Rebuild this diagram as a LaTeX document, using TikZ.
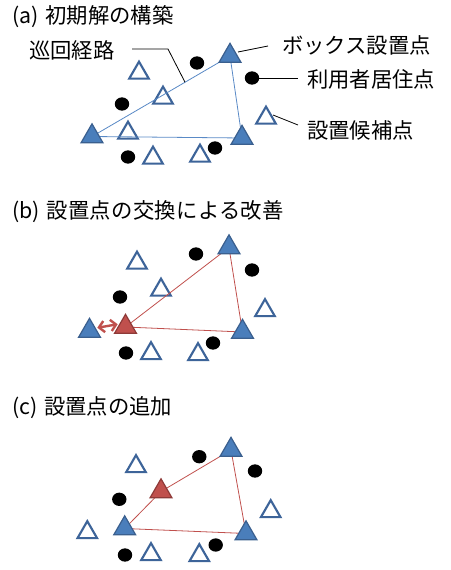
\documentclass[tikz,border=0pt]{standalone}
\usepackage{fontspec}
\setmainfont{Noto Sans CJK JP}
\newfontfamily\jpwide[LetterSpace=1.5]{Noto Sans CJK JP}
\usetikzlibrary{shapes.geometric,arrows.meta,calc}
\pgfdeclarelayer{back}
\pgfdeclarelayer{mid}
\pgfsetlayers{back,mid,main}
\definecolor{boxfill}{HTML}{4A7EBB}
\definecolor{boxedge}{HTML}{3A5F8E}
\definecolor{candedge}{HTML}{3D6499}
\definecolor{redfill}{HTML}{C0504D}
\definecolor{rededge}{HTML}{8E3A38}
\definecolor{pathblue}{HTML}{5A8AC6}
\definecolor{pathred}{HTML}{C0504D}
\tikzset{
  tri/.style={regular polygon, regular polygon sides=3, minimum size=19pt, inner sep=0pt, outer sep=0pt},
  boxpt/.style={tri, fill=boxfill, draw=boxedge, line width=0.9pt},
  newpt/.style={tri, fill=redfill, draw=rededge, line width=0.9pt},
  cand/.style={tri, fill=white, draw=candedge, line width=1.6pt, minimum size=17pt},
  user/.style={ellipse, fill=black, minimum width=10.8pt, minimum height=10pt, inner sep=0pt},
  route/.style={draw=pathblue, line width=0.6pt},
  routered/.style={draw=pathred, line width=0.6pt},
  leader/.style={draw=black, line width=0.6pt},
  ttl/.style={anchor=west, inner sep=0pt, font=\fontsize{16}{19}\selectfont},
  lbl/.style={anchor=west, inner sep=0pt, font=\fontsize{16}{19}\selectfont},
  swap/.style={draw=pathred, line width=1.8pt, {Straight Barb[length=4pt,width=8.5pt]}-{Straight Barb[length=4pt,width=8.5pt]}, shorten <=1pt, shorten >=1pt}
}
\begin{document}
\begin{tikzpicture}[x=0.75pt,y=-0.75pt]
\useasboundingbox (0,0) rectangle (450,570);
% ---------- (a) ----------
\node[ttl] (ta) at (12,17) {(a)\hspace{5pt}初期解の構築};
\begin{pgfonlayer}{back}
\node[cand] (a1) at (139,73) {};
\node[cand] (a2) at (163,98) {};
\node[cand] (a3) at (128,133) {};
\node[cand] (a4) at (266,118) {};
\node[cand] (a5) at (153,158) {};
\node[cand] (a6) at (200,156) {};
\end{pgfonlayer}
\node[user] (au1) at (197,63) {};
\node[user] (au2) at (252,78) {};
\node[user] (au3) at (122,104) {};
\node[user] (au4) at (128,157) {};
\node[user] (au5) at (215,148) {};
\node[boxpt] (aT) at (230,56) {};
\node[boxpt] (aL) at (92,136.5) {};
\node[boxpt] (aR) at (242,138) {};
\begin{pgfonlayer}{mid}
\draw[route] (aL.center) -- (aT.center) -- (aR.center) -- (aL.center);
\end{pgfonlayer}
\node[lbl] (lr) at (29,50) {巡回経路};
\node[lbl] (lb) at (282,45) {ボックス設置点};
\node[lbl] (lu) at (307,79.5) {利用者居住点};
\node[lbl] (lc) at (307,130) {設置候補点};
\coordinate (rp) at ($(aL.center)!0.674!(aT.center)$);
\coordinate (r1) at (132,49);
\coordinate (r2) at (168,49);
\draw[leader] (r1) -- (r2) -- (rp);
\coordinate (b1) at (238,52);
\coordinate (b2) at (268,46);
\draw[leader] (b1) -- (b2);
\coordinate (u1) at (258,78);
\coordinate (u2) at (298,78);
\draw[leader] (u1) -- (u2);
\coordinate (c1) at (273,115);
\coordinate (c2) at (298,125);
\draw[leader] (c1) -- (c2);
% ---------- (b) ----------
\node[ttl] (tb) at (12,212) {(b)\hspace{5pt}{\jpwide 設置点の交換による改善}};
\begin{pgfonlayer}{back}
\node[cand] (b1n) at (137,263) {};
\node[cand] (b2n) at (161,290) {};
\node[cand] (b3n) at (265,310.5) {};
\node[cand] (b4n) at (151,353.5) {};
\node[cand] (b5n) at (198,354.5) {};
\end{pgfonlayer}
\node[user] (bu1) at (196,254) {};
\node[user] (bu2) at (252,270) {};
\node[user] (bu3) at (120,297) {};
\node[user] (bu4) at (126,353) {};
\node[user] (bu5) at (213,343) {};
\node[boxpt] (bT) at (229,247.5) {};
\node[boxpt] (bR) at (242.5,332) {};
\node[boxpt] (bL) at (89.5,331) {};
\node[newpt] (bN) at (125.5,327) {};
\begin{pgfonlayer}{mid}
\draw[routered] (bN.center) -- (bT.center) -- (bR.center) -- (bN.center);
\end{pgfonlayer}
\coordinate (sa) at (96,328);
\coordinate (sb) at (119,324);
\draw[swap] (sa) -- (sb);
% ---------- (c) ----------
\node[ttl] (tc) at (12,408) {(c)\hspace{5pt}設置点の追加};
\begin{pgfonlayer}{back}
\node[cand] (c1n) at (136,466.5) {};
\node[cand] (c2n) at (87.3,532.5) {};
\node[cand] (c3n) at (270.7,511.5) {};
\node[cand] (c4n) at (151,554.5) {};
\node[cand] (c5n) at (199.3,555.5) {};
\end{pgfonlayer}
\node[user] (cu1) at (199.3,456.7) {};
\node[user] (cu2) at (255,471) {};
\node[user] (cu3) at (119.3,499.3) {};
\node[user] (cu4) at (125,555) {};
\node[user] (cu5) at (215.7,545) {};
\node[boxpt] (cT) at (231,450) {};
\node[boxpt] (cR) at (246,533.5) {};
\node[boxpt] (cL) at (124.7,528.5) {};
\node[newpt] (cN) at (161,491.5) {};
\begin{pgfonlayer}{mid}
\draw[routered] (cN.center) -- (cT.center) -- (cR.center) -- (cL.center) -- (cN.center);
\end{pgfonlayer}
\end{tikzpicture}
\end{document}
